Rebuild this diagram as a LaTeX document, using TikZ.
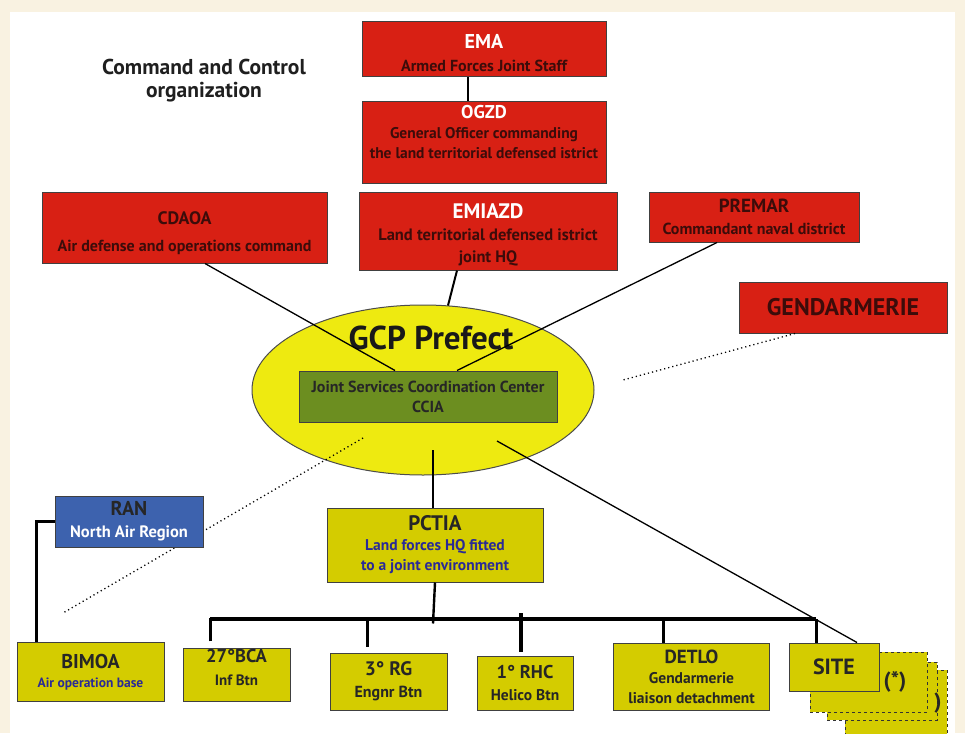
\documentclass[tikz,border=0pt]{standalone}
\usepackage{fontspec}
\setmainfont{PT Sans}
\usetikzlibrary{calc,shapes.geometric}

\definecolor{paper}{RGB}{249,242,225}
\definecolor{boxred}{RGB}{216,32,20}
\definecolor{redink}{RGB}{60,12,10}
\definecolor{prefyellow}{RGB}{238,234,16}
\definecolor{unitolive}{RGB}{212,204,0}
\definecolor{ccgreen}{RGB}{108,142,32}
\definecolor{ranblue}{RGB}{61,98,174}
\definecolor{navyink}{RGB}{42,42,150}

\newcommand{\fsz}[2]{\fontsize{#1}{#2}\selectfont}
\newcommand{\hdw}[2]{{\color{white}\fsz{#1}{#1}#2}}
\newcommand{\hdk}[2]{{\fsz{#1}{#1}#2}}

\tikzset{
	redbox/.style={draw=black!75, line width=1pt, fill=boxred, inner sep=0pt, align=center, text=redink},
	unitbox/.style={draw=black!75, line width=1pt, fill=unitolive, inner sep=0pt, align=center, text=black!85},
	sitestack/.style={draw=black!80, dashed, line width=1pt, fill=unitolive},
	link/.style={line width=1.3pt},
	stem/.style={line width=2.4pt},
	dotlink/.style={line width=1.3pt, dash pattern=on 1.2pt off 3pt},
	drop/.style={line width=3pt},
	bus/.style={line width=4.2pt}
}

\begin{document}
\begin{tikzpicture}[x=1pt,y=-1pt]
		%%%%% START %%%%%
		\useasboundingbox (0,0) rectangle (965,733);
		\fill[paper] (0,0) rectangle (965,733);
		\fill[white] (10,12) rectangle (955,733);
		
		\node[font=\fsz{21.5}{23}\bfseries, text=black!88, align=center] (title) at (204,81) {Command and Control\\organization};
		
		% staff chain
		\node[redbox, minimum width=244, minimum height=55, font=\fsz{16}{23}\bfseries, text height=44pt] (ema) at (484,49.5) {\hdw{20}{EMA}\\Armed Forces Joint Staff};
		\node[redbox, minimum width=244, minimum height=81, font=\fsz{15.5}{20}\bfseries, text depth=22pt] (ogzd) at (484,142.5) {\hdw{18.5}{OGZD}\\General Officer commanding\\the land territorial defensed istrict};
		\draw[stem, line width=2pt] ($(ema.south)+(-16,0)$) -- ($(ogzd.north)+(-16,0)$);
		
		\node[redbox, minimum width=285, minimum height=71, font=\fsz{16}{27}\bfseries, text height=51pt] (cdaoa) at (184.5,227.5) {\hdk{18}{CDAOA}\\Air defense and operations command};
		\node[redbox, minimum width=258, minimum height=78, font=\fsz{16.5}{22}\bfseries, text height=66pt] (emiazd) at (488,231) {\hdw{21}{EMIAZD}\\Land territorial defensed istrict\\joint HQ};
		\node[redbox, minimum width=210, minimum height=50, font=\fsz{16}{22}\bfseries] (premar) at (754,217) {\hdk{19}{PREMAR}\\Commandant naval district};
		\node[redbox, minimum width=208, minimum height=51, font=\fsz{24}{24}\bfseries] (gend) at (843,307.5) {GENDARMERIE};
		
		% prefect
		\node[ellipse, draw=black!70, line width=1pt, fill=prefyellow, minimum width=342, minimum height=170, inner sep=0pt] (gcp) at (423,390) {};
		\node[draw=black!75, line width=1pt, fill=ccgreen, minimum width=258, minimum height=51, inner sep=0pt, align=center, font=\fsz{16}{20}\bfseries, text=black!85] (ccia) at (428,396.5) {Joint Services Coordination Center\\CCIA};
		\node[font=\fsz{33}{34}\bfseries, text=black!90] (gcptitle) at (431,338) {GCP Prefect};
		
		\draw[link] ($(cdaoa.south)+(20.5,0)$) -- ($(ccia.north)+(-33,0)$);
		\draw[link] ($(premar.south)+(-37,0)$) -- ($(ccia.north)+(29,0)$);
		\draw[stem, line width=2pt] ($(emiazd.south)+(-31,0)$) -- ($(gcp.north)+(25,1)$);
		
		\coordinate (gendfar) at (623,380);
		\draw[dotlink] ($(gend.south)+(-48,0)$) -- (gendfar);
		\coordinate (ranfar) at (63,613);
		\draw[dotlink] ($(gcp.center)+(-60,48)$) -- (ranfar);
		
		% air side
		\node[draw=black!75, line width=1pt, fill=ranblue, minimum width=148, minimum height=51, inner sep=0pt, align=center, font=\fsz{16.5}{22}\bfseries, text=white] (ran) at (129,521.5) {\textcolor{black!85}{\fsz{20}{20}RAN}\\North Air Region};
		\node[unitbox, minimum width=147, minimum height=59, font=\fsz{13.5}{19}\bfseries] (bimoa) at (90.5,672) {\hdk{20}{BIMOA}\\\textcolor{navyink}{Air operation base}};
		\draw[stem, line width=3pt] (ran.west) -| ($(bimoa.north)+(-54,0)$);
		
		% land forces
		\node[unitbox, minimum width=216, minimum height=74, font=\fsz{15.5}{20}\bfseries] (pctia) at (435,545) {\hdk{21}{PCTIA}\\\textcolor{navyink}{Land forces HQ fitted}\\\textcolor{navyink}{to a joint environment}};
		\draw[stem] ($(gcp.center)+(10,60)$) -- ($(pctia.north)+(-2,0)$);
		
		\node[unitbox, minimum width=107, minimum height=52, font=\fsz{15}{23}\bfseries, text depth=16pt] (bca) at (236.5,675) {\hdk{18.5}{27°BCA}\\Inf Btn};
		\node[unitbox, minimum width=117, minimum height=57, font=\fsz{16}{22}\bfseries] (rg) at (388.5,681.5) {\hdk{19.5}{3° RG}\\Engnr Btn};
		\node[unitbox, minimum width=96, minimum height=54, font=\fsz{15.5}{22}\bfseries] (rhc) at (525,683) {\hdk{18.5}{1° RHC}\\Helico Btn};
		\node[unitbox, minimum width=156, minimum height=67, font=\fsz{15.5}{20}\bfseries] (detlo) at (691.5,676.5) {\hdk{19}{DETLO}\\Gendarmerie\\liaison detachment};
		
		\node[sitestack, minimum width=102, minimum height=75] (stack3) at (896,707.5) {};
		\node[sitestack, minimum width=110, minimum height=58] (stack2) at (882,691) {};
		\node[font=\fsz{22}{22}\bfseries, text=black!85] (stack2mark) at (938,703) {)};
		\node[sitestack, minimum width=117, minimum height=60] (stack1) at (868.5,682) {};
		\node[font=\fsz{22}{22}\bfseries, text=black!85] (stack1mark) at (895,682) {(*)};
		\node[unitbox, minimum width=90, minimum height=48, font=\fsz{22}{22}\bfseries] (site) at (834,667) {SITE};
		
		\draw[link] ($(gcp.center)+(74,51)$) -- ($(site.north)+(23,0)$);
		
		% bus
		\coordinate (busL) at (210,619);
		\coordinate (busR) at (816,619);
		\draw[bus] (busL) -- (busR);
		\draw[stem] (pctia.south) -- ($(pctia.south)+(-2,41)$);
		\foreach \unit/\dx/\gap in {bca/-26/7, rg/-21/6, detlo/-28/0, site/-18/0}
			\draw[drop] ($(\unit.north)+(\dx,-\gap)$) |- (busR);
		\draw[drop, line width=4.2pt] ($(rhc.north)+(-4,-4)$) -- ($(rhc.north)+(-4,-43)$);
		
		%%%%% END %%%%%
\end{tikzpicture}
\end{document}
